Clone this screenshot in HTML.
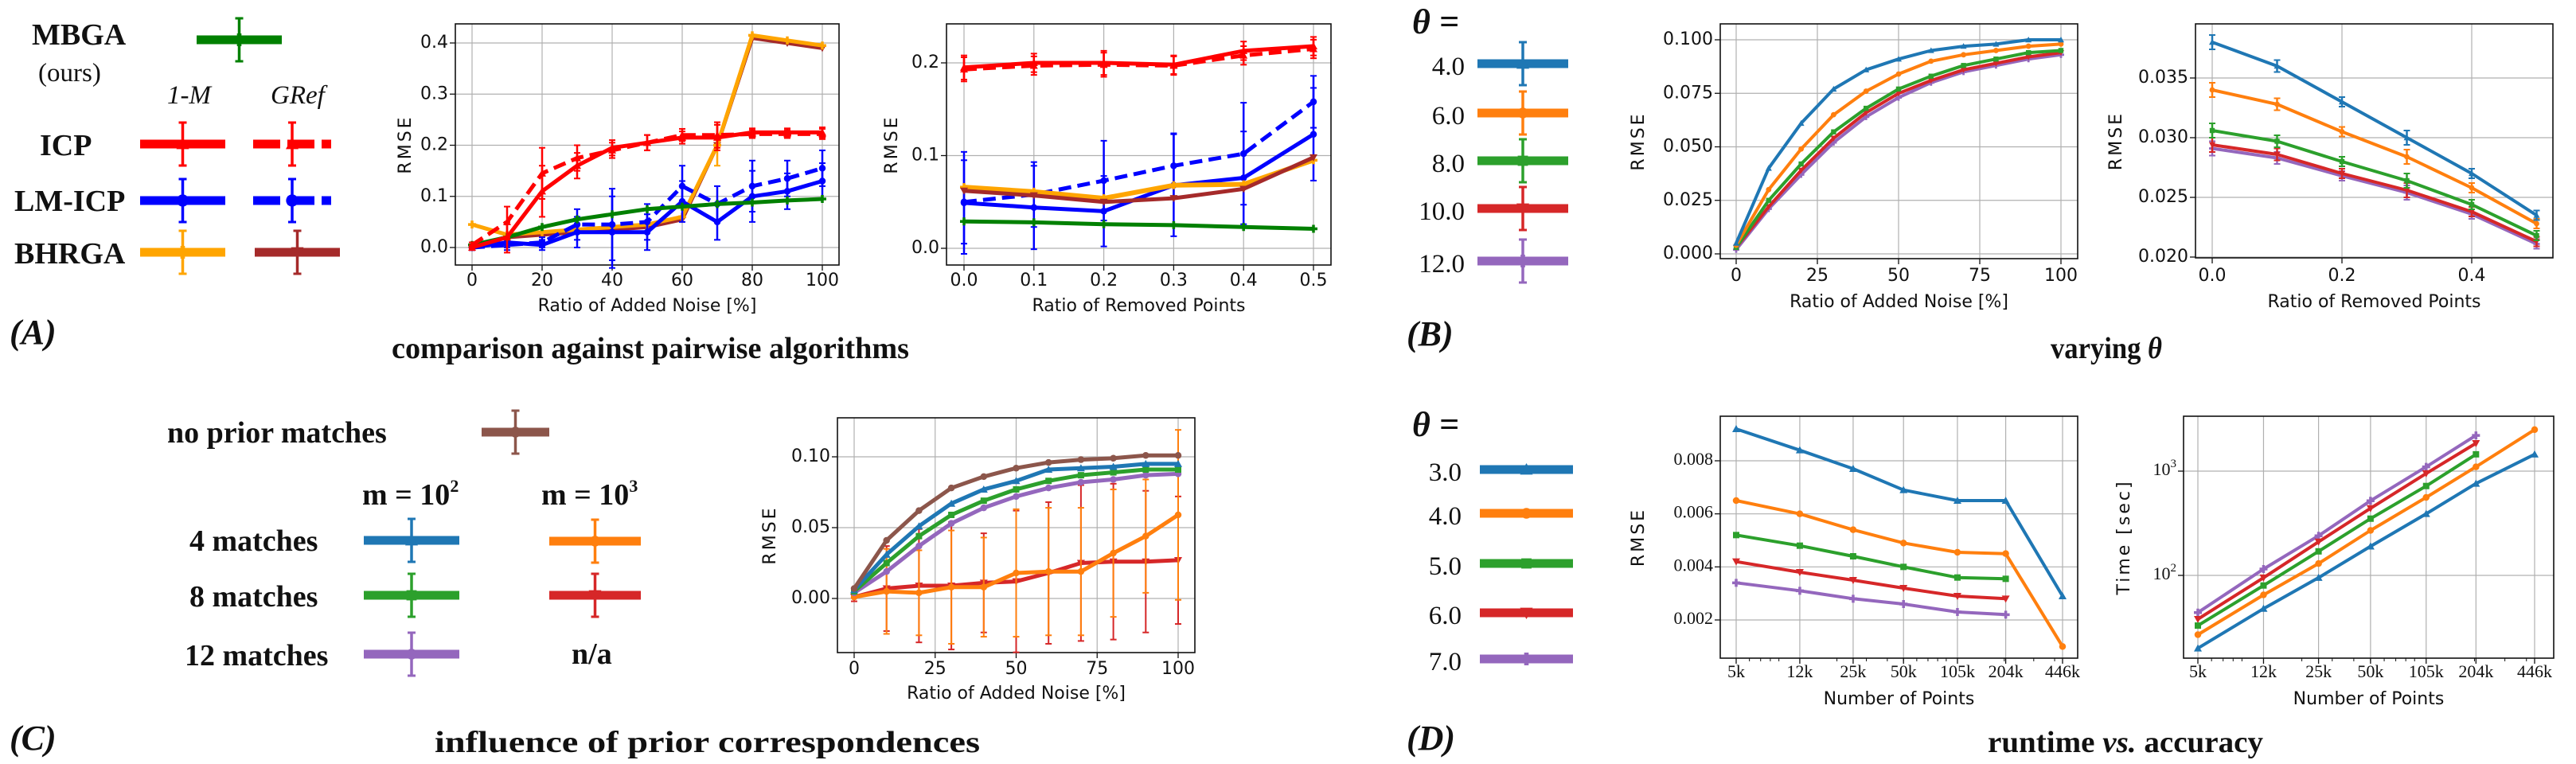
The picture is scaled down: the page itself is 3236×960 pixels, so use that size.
<!DOCTYPE html>
<html><head><meta charset="utf-8">
<style>
html,body{margin:0;padding:0;background:#fff;}
svg{display:block;}
.tk{font-family:"DejaVu Sans","Liberation Sans",sans-serif;font-size:22px;fill:#111;}
.tks{font-family:"Liberation Serif",serif;font-size:22px;fill:#111;}
.lab{font-family:"DejaVu Sans","Liberation Sans",sans-serif;font-size:22px;fill:#111;}
.lg{font-family:"Liberation Serif",serif;font-weight:bold;font-size:38px;fill:#111;}
.lgr{font-family:"Liberation Serif",serif;font-size:33px;fill:#111;}
.lgi{font-family:"Liberation Serif",serif;font-style:italic;font-size:33px;fill:#111;}
.cap{font-family:"Liberation Serif",serif;font-weight:bold;font-size:38px;fill:#111;}
.pl{font-family:"Liberation Serif",serif;font-weight:bold;font-style:italic;font-size:44px;fill:#111;}
</style></head>
<body>
<svg id="fig" width="3236" height="960" viewBox="0 0 3236 960" xmlns="http://www.w3.org/2000/svg">
<rect width="3236" height="960" fill="#fff"/>
<g>
<text class="lg" x="40" y="56">MBGA</text>
<text class="lgr" x="48" y="102">(ours)</text>
<text class="lgi" x="210" y="130">1-M</text>
<text class="lgi" x="340" y="130">GRef</text>
<text class="lg" x="50" y="195">ICP</text>
<text class="lg" x="18" y="265">LM-ICP</text>
<text class="lg" x="18" y="331">BHRGA</text>
</g>
<text class="pl" x="12" y="432">(A)</text>
<text class="cap" x="492" y="450" textLength="650" lengthAdjust="spacingAndGlyphs">comparison against pairwise algorithms</text>
<text class="pl" x="1774" y="42">θ =</text>
<text class="pl" x="1767" y="434">(B)</text>
<text class="cap" x="2576" y="450" textLength="140" lengthAdjust="spacingAndGlyphs">varying <tspan font-style="italic">θ</tspan></text>
<text class="lg" x="210" y="556">no prior matches</text>
<text class="lg" x="455" y="634">m = 10<tspan dy="-16" font-size="22">2</tspan></text>
<text class="lg" x="680" y="634">m = 10<tspan dy="-16" font-size="22">3</tspan></text>
<text class="lg" x="238" y="692">4 matches</text>
<text class="lg" x="238" y="762">8 matches</text>
<text class="lg" x="232" y="836">12 matches</text>
<text class="lg" x="718" y="834">n/a</text>
<text class="pl" x="12" y="942">(C)</text>
<text class="cap" x="546" y="945" textLength="685" lengthAdjust="spacingAndGlyphs">influence of prior correspondences</text>
<text class="pl" x="1774" y="548">θ =</text>
<text class="pl" x="1767" y="942">(D)</text>
<text class="cap" x="2497" y="945" textLength="346" lengthAdjust="spacingAndGlyphs">runtime <tspan font-style="italic">vs.</tspan> accuracy</text>
</svg>
<script>
// ---------- DATA ----------
const noiseX = [0,10,20,30,40,50,60,70,80,90,100];
const removedX = [0,0.1,0.2,0.3,0.4,0.5];
const a1Mbga = [0.005,0.02,0.04,0.055,0.065,0.075,0.08,0.085,0.088,0.092,0.095];
const a1Icp1M = [0,0.02,0.11,0.16,0.195,0.205,0.215,0.215,0.225,0.225,0.225];
const a1IcpGref = [0.005,0.05,0.145,0.175,0.19,0.205,0.22,0.22,0.222,0.222,0.222];
const a1Lm1M = [0,0.01,0.005,0.03,0.03,0.03,0.09,0.05,0.1,0.11,0.13];
const a1LmGref = [0,0.005,0.01,0.045,0.045,0.05,0.12,0.085,0.12,0.135,0.155];
const a1Bh1M = [0.045,0.025,0.03,0.035,0.04,0.045,0.06,0.2,0.415,0.405,0.395];
const a1BhGref = [0.0,0.02,0.025,0.03,0.035,0.04,0.055,0.2,0.41,0.4,0.39];
const a1IcpErr = [0.005,0.03,0.05,0.025,0.015,0.015,0.012,0.025,0.008,0.008,0.01];
const a1LmErr = [0.005,0.01,0.01,0.03,0.07,0.035,0.04,0.035,0.05,0.035,0.035];
const a2Mbga = [0.029,0.028,0.026,0.025,0.023,0.021];
const a2Icp1M = [0.195,0.2,0.2,0.198,0.213,0.218];
const a2IcpGref = [0.193,0.197,0.198,0.197,0.208,0.215];
const a2Lm1M = [0.049,0.044,0.04,0.068,0.076,0.123];
const a2LmGref = [0.05,0.058,0.073,0.089,0.102,0.158];
const a2Bh1M = [0.066,0.061,0.054,0.068,0.069,0.095];
const a2BhGref = [0.062,0.057,0.05,0.054,0.064,0.098];
const a2IcpErr = [0.013,0.01,0.013,0.01,0.01,0.01];
const a2Lm1MErr = [0.055,0.045,0.038,0.055,0.05,0.05];
const a2LmGrefErr = [0.045,0.035,0.043,0.035,0.055,0.028];
const thetaB = ["4.0","6.0","8.0","10.0","12.0"];
const b1T4 = [0.005,0.04,0.061,0.077,0.086,0.091,0.095,0.097,0.098,0.1,0.1];
const b1T6 = [0.004,0.03,0.049,0.065,0.076,0.084,0.09,0.093,0.095,0.097,0.098];
const b1T8 = [0.003,0.025,0.042,0.057,0.068,0.077,0.083,0.088,0.091,0.094,0.095];
const b1T10 = [0.003,0.022,0.039,0.054,0.066,0.075,0.081,0.086,0.089,0.092,0.094];
const b1T12 = [0.002,0.021,0.037,0.052,0.064,0.073,0.08,0.085,0.088,0.091,0.093];
const b2T4 = [0.038,0.036,0.033,0.03,0.027,0.0235];
const b2T6 = [0.034,0.0328,0.0305,0.0284,0.0258,0.0228];
const b2T8 = [0.0306,0.0297,0.028,0.0264,0.0244,0.0218];
const b2T10 = [0.0294,0.0286,0.027,0.0256,0.0238,0.0213];
const b2T12 = [0.0291,0.0283,0.0268,0.0254,0.0236,0.0211];
const cNoPrior = [0.007,0.041,0.062,0.078,0.086,0.092,0.096,0.098,0.099,0.101,0.101];
const c4m100 = [0.006,0.031,0.051,0.067,0.077,0.083,0.091,0.092,0.093,0.095,0.095];
const c8m100 = [0.005,0.025,0.044,0.059,0.069,0.077,0.083,0.087,0.089,0.091,0.091];
const c12m100 = [0.004,0.019,0.037,0.053,0.064,0.072,0.078,0.082,0.084,0.087,0.088];
const c4m1000 = [0.001,0.005,0.004,0.008,0.008,0.018,0.019,0.019,0.032,0.044,0.059];
const c8m1000 = [0.001,0.007,0.009,0.009,0.011,0.012,0.018,0.025,0.026,0.026,0.027];
const c4m1000Err = [0,0.03,0.03,0.04,0.035,0.045,0.045,0.045,0.045,0.04,0.06];
const c8m1000Err = [0.003,0.03,0.04,0.045,0.035,0.05,0.05,0.055,0.055,0.05,0.045];
const thetaD = ["3.0","4.0","5.0","6.0","7.0"];
const dPoints = [5000,12000,25000,50000,105000,204000,446000];
const dPointLabels = ["5k","12k","25k","50k","105k","204k","446k"];
const d1T3 = [0.0092,0.0084,0.0077,0.0069,0.0065,0.0065,0.0029];
const d1T4 = [0.0065,0.006,0.0054,0.0049,0.00455,0.0045,0.001];
const d1T5 = [0.0052,0.0048,0.0044,0.004,0.0036,0.00355];
const d1T6 = [0.0042,0.0038,0.0035,0.0032,0.0029,0.0028];
const d1T7 = [0.0034,0.0031,0.0028,0.0026,0.0023,0.0022];
const d2T3 = [20,48,95,190,390,760,1450];
const d2T4 = [27,65,130,270,560,1100,2500];
const d2T5 = [33,80,170,350,720,1450];
const d2T6 = [38,95,210,440,950,1850];
const d2T7 = [44,115,240,520,1100,2200];
const a1XTicks = [0,20,40,60,80,100];
const a1YTicks = [0.0,0.1,0.2,0.3,0.4];
const a2XTicks = [0,0.1,0.2,0.3,0.4,0.5];
const a2YTicks = [0.0,0.1,0.2];
const b1XTicks = [0,25,50,75,100];
const b1YTicks = [0,0.025,0.05,0.075,0.1];
const b2XTicks = [0,0.2,0.4];
const b2YTicks = [0.02,0.025,0.03,0.035];
const cXTicks = [0,25,50,75,100];
const cYTicks = [0,0.05,0.1];
const d1YTicks = [0.002,0.004,0.006,0.008];
const d2YTicks = [100,1000];

// ---------- DRAW ----------
const NS = "http://www.w3.org/2000/svg";
const svg = document.getElementById("fig");
const C = {blue:"#1f77b4",orange:"#ff7f0e",green:"#2ca02c",red:"#d62728",purple:"#9467bd",brown:"#8c564b",
  pr:"#ff0000",pb:"#0000ff",py:"#ffa500",pbr:"#a52a2a",pg:"#008000"};
function mk(tag, attrs, parent){
  const e = document.createElementNS(NS, tag);
  for (const k in attrs) e.setAttribute(k, attrs[k]);
  (parent||svg).appendChild(e);
  return e;
}
function lin(d0,d1,p0,p1){ return v => p0 + (v-d0)*(p1-p0)/(d1-d0); }
function logs(d0,d1,p0,p1){ const a=Math.log10(d0), b=Math.log10(d1); return v => p0 + (Math.log10(v)-a)*(p1-p0)/(b-a); }
function fmt(v, dec){ return v.toFixed(dec); }

function axesBox(name, box, xs, ys, xt, yt, xdec, ydec, xlab, ylab, labY, xlabY, ylabX, serif){
  const g = mk("g", {});
  
  
  xt.forEach(v => { const x = xs(v);
    const l = mk("line",{x1:x,x2:x,y1:box.t,y2:box.b,stroke:"#b0b0b0","stroke-width":1.2},g);
     
    mk("line",{x1:x,x2:x,y1:box.b,y2:box.b+7,stroke:"#111","stroke-width":1.3},g);
    const t = mk("text",{x:x,y:labY,"text-anchor":"middle","dominant-baseline":"middle","class":serif?"tks":"tk"},g);
    t.textContent = typeof xdec==="function" ? xdec(v) : fmt(v,xdec);
     
  });
  yt.forEach(v => { const y = ys(v);
    const l = mk("line",{x1:box.l,x2:box.r,y1:y,y2:y,stroke:"#b0b0b0","stroke-width":1.2},g);
     
    mk("line",{x1:box.l-7,x2:box.l,y1:y,y2:y,stroke:"#111","stroke-width":1.3},g);
    const t = mk("text",{x:box.l-9,y:y,"text-anchor":"end","dominant-baseline":"middle","class":serif?"tks":"tk"},g);
    if (typeof ydec==="function") ydec(t,v); else t.textContent = fmt(v,ydec);
     
  });
  const r = mk("rect",{x:box.l,y:box.t,width:box.r-box.l,height:box.b-box.t,fill:"none",stroke:"#111","stroke-width":1.6},g);
   
  const xl = mk("text",{x:(box.l+box.r)/2,y:xlabY,"text-anchor":"middle","dominant-baseline":"middle","class":"lab"},g);
  xl.textContent = xlab;
   
  const cy = (box.t+box.b)/2;
  const yl = mk("text",{x:ylabX,y:cy,"text-anchor":"middle","dominant-baseline":"middle","class":"lab","transform":`rotate(-90 ${ylabX} ${cy})`,"letter-spacing":"3"},g);
  yl.textContent = ylab;
   
  return g;
}

function marker(g, type, x, y, col, s){
  let e;
  if (type==="^") e = mk("path",{d:`M${x} ${y-s} L${x+s} ${y+s*0.8} L${x-s} ${y+s*0.8}Z`,fill:col},g);
  else if (type==="v") e = mk("path",{d:`M${x} ${y+s} L${x+s} ${y-s*0.8} L${x-s} ${y-s*0.8}Z`,fill:col},g);
  else if (type==="s") e = mk("rect",{x:x-s*0.8,y:y-s*0.8,width:s*1.6,height:s*1.6,fill:col},g);
  else if (type==="P") e = mk("path",{d:`M${x-s*0.35} ${y-s} h${s*0.7} v${s*0.65} h${s*0.65} v${s*0.7} h-${s*0.65} v${s*0.65} h-${s*0.7} v-${s*0.65} h-${s*0.65} v-${s*0.7} h${s*0.65}z`,fill:col},g);
  else e = mk("circle",{cx:x,cy:y,r:s*0.85,fill:col},g);
  return e;
}

function series(name, xs, ys, xv, yv, col, w, opts){
  opts = opts||{};
  const g = mk("g",{});
  
  
  if (opts.err) {
    yv.forEach((v,i) => { const e = opts.err[i]; if (!e) return;
      const x = xs(xv[i]);
      mk("line",{x1:x,x2:x,y1:ys(v-e),y2:ys(v+e),stroke:col,"stroke-width":opts.ew||2.5},g);
      mk("line",{x1:x-4,x2:x+4,y1:ys(v-e),y2:ys(v-e),stroke:col,"stroke-width":2},g);
      mk("line",{x1:x-4,x2:x+4,y1:ys(v+e),y2:ys(v+e),stroke:col,"stroke-width":2},g);
    });
  }
  const pts = yv.map((v,i) => xs(xv[i]).toFixed(1)+","+ys(v).toFixed(1)).join(" ");
  const pl = mk("polyline",{points:pts,fill:"none",stroke:col,"stroke-width":w,"stroke-linejoin":"round","stroke-dasharray":opts.dash||"none"},g);
  
  
  yv.forEach((v,i) => {
    const m = marker(g, opts.m||"o", xs(xv[i]), ys(v), col, opts.ms||5);
    
    
  });
  return g;
}

function legendCross(name, x1, x2, y, col, thick, opts){
  opts = opts||{};
  const g = mk("g",{});
  
  
  const cx = (x1+x2)/2;
  if (opts.err!==false) {
    mk("line",{x1:cx,x2:cx,y1:y-27,y2:y+27,stroke:col,"stroke-width":3.5},g);
    mk("line",{x1:cx-5,x2:cx+5,y1:y-27,y2:y-27,stroke:col,"stroke-width":3},g);
    mk("line",{x1:cx-5,x2:cx+5,y1:y+27,y2:y+27,stroke:col,"stroke-width":3},g);
  }
  mk("line",{x1:x1,x2:x2,y1:y,y2:y,stroke:col,"stroke-width":thick,"stroke-dasharray":opts.dash||"none"},g);
  marker(g, opts.m||"o", cx, y, col, opts.ms||8);
  return g;
}

legendCross("legend-mbga-mark",247,354,50,C.pg,11,{m:"P"});
legendCross("legend-icp-1m-mark",176,283,181,C.pr,11,{m:"^"});
legendCross("legend-icp-gref-mark",318,416,181,C.pr,11,{m:"^",dash:"34 9"});
legendCross("legend-lmicp-1m-mark",176,283,252,C.pb,11,{m:"o",ms:9});
legendCross("legend-lmicp-gref-mark",318,416,252,C.pb,11,{m:"o",ms:9,dash:"34 9"});
legendCross("legend-bhrga-1m-mark",176,283,317,C.py,11,{m:"P"});
legendCross("legend-bhrga-gref-mark",320,427,317,C.pbr,11,{m:"v"});

{
  const box={l:572,r:1054,t:30,b:333};
  const xs=lin(0,100,593,1033), ys=lin(0,0.4,311,54);
  axesBox("chart-a1-axes",box,xs,ys,a1XTicks,a1YTicks,0,1,"Ratio of Added Noise [%]","RMSE",353,385,510);
  series("a1-bhrga-gref",xs,ys,noiseX,a1BhGref,C.pbr,5,{m:"v"});
  series("a1-bhrga-1m",xs,ys,noiseX,a1Bh1M,C.py,5,{m:"P",err:[0,0,0,0,0,0,0,0.04,0,0,0]});
  series("a1-lmicp-1m",xs,ys,noiseX,a1Lm1M,C.pb,5,{m:"o",err:a1LmErr});
  series("a1-lmicp-gref",xs,ys,noiseX,a1LmGref,C.pb,5,{m:"o",err:a1LmErr,dash:"16 8"});
  series("a1-mbga",xs,ys,noiseX,a1Mbga,C.pg,5,{m:"P"});
  series("a1-icp-1m",xs,ys,noiseX,a1Icp1M,C.pr,5,{m:"^",err:a1IcpErr});
  series("a1-icp-gref",xs,ys,noiseX,a1IcpGref,C.pr,5,{m:"^",err:a1IcpErr,dash:"16 8"});
}
{
  const box={l:1189,r:1672,t:30,b:333};
  const xs=lin(0,0.5,1211,1650), ys=lin(0,0.2,312,79);
  axesBox("chart-a2-axes",box,xs,ys,a2XTicks,a2YTicks,1,1,"Ratio of Removed Points","RMSE",353,385,1121);
  series("a2-lmicp-1m",xs,ys,removedX,a2Lm1M,C.pb,5,{m:"o",err:a2Lm1MErr});
  series("a2-lmicp-gref",xs,ys,removedX,a2LmGref,C.pb,5,{m:"o",err:a2LmGrefErr,dash:"16 8"});
  series("a2-bhrga-1m",xs,ys,removedX,a2Bh1M,C.py,6,{m:"P"});
  series("a2-bhrga-gref",xs,ys,removedX,a2BhGref,C.pbr,5,{m:"v"});
  series("a2-mbga",xs,ys,removedX,a2Mbga,C.pg,5,{m:"P"});
  series("a2-icp-1m",xs,ys,removedX,a2Icp1M,C.pr,5,{m:"^",err:a2IcpErr});
  series("a2-icp-gref",xs,ys,removedX,a2IcpGref,C.pr,5,{m:"^",err:a2IcpErr,dash:"16 8"});
}
const bCols=[C.blue,C.orange,C.green,C.red,C.purple];
const bMk=["^","o","s","v","P"];
const bLegY=[80,142,202,262,328];
thetaB.forEach((t,i)=>{
  const tx = mk("text",{x:1840,y:bLegY[i]+14,"text-anchor":"end","class":"lgr","font-size":"40"});
  tx.textContent = t;
  
  
  legendCross("legend-b-mark",1856,1970,bLegY[i],bCols[i],11,{m:bMk[i]});
});
{
  const box={l:2161,r:2610,t:30,b:325};
  const xs=lin(0,100,2181,2589), ys=lin(0,0.1,319,50);
  axesBox("chart-b1-axes",box,xs,ys,b1XTicks,b1YTicks,0,3,"Ratio of Added Noise [%]","RMSE",347,380,2059);
  const b1=[b1T4,b1T6,b1T8,b1T10,b1T12];
  for(let i=4;i>=0;i--) series("b1-theta-"+thetaB[i],xs,ys,noiseX,b1[i],bCols[i],4,{m:bMk[i],ms:4});
}
{
  const box={l:2758,r:3207,t:30,b:324};
  const xs=lin(0,0.4,2779,3105), ys=lin(0.02,0.035,323,98);
  axesBox("chart-b2-axes",box,xs,ys,b2XTicks,b2YTicks,1,3,"Ratio of Removed Points","RMSE",347,380,2659);
  const b2=[b2T4,b2T6,b2T8,b2T10,b2T12];
  for(let i=4;i>=0;i--) series("b2-theta-"+thetaB[i],xs,ys,removedX,b2[i],bCols[i],4,{m:bMk[i],ms:4,err:[0.0006,0.0005,0.0004,0.0006,0.0004,0.0004]});
}
legendCross("legend-no-prior-mark",605,690,543,C.brown,11,{m:"o"});
legendCross("legend-4m-m100-mark",457,577,679,C.blue,11,{m:"^"});
legendCross("legend-4m-m1000-mark",690,805,680,C.orange,11,{m:"o"});
legendCross("legend-8m-m100-mark",457,577,748,C.green,11,{m:"s"});
legendCross("legend-8m-m1000-mark",690,805,748,C.red,11,{m:"v"});
legendCross("legend-12m-m100-mark",457,577,822,C.purple,11,{m:"o"});
{
  const box={l:1052,r:1501,t:525,b:820};
  const xs=lin(0,100,1073,1480), ys=lin(0,0.1,752,574);
  axesBox("chart-c-axes",box,xs,ys,cXTicks,cYTicks,0,2,"Ratio of Added Noise [%]","RMSE",841,872,968);
  series("c-8m-m1000",xs,ys,noiseX,c8m1000,C.red,5,{m:"v",err:c8m1000Err,ew:2});
  series("c-4m-m1000",xs,ys,noiseX,c4m1000,C.orange,5,{m:"o",err:c4m1000Err,ew:2});
  series("c-12m-m100",xs,ys,noiseX,c12m100,C.purple,5,{m:"o"});
  series("c-8m-m100",xs,ys,noiseX,c8m100,C.green,5,{m:"s"});
  series("c-4m-m100",xs,ys,noiseX,c4m100,C.blue,5,{m:"^"});
  series("c-no-prior",xs,ys,noiseX,cNoPrior,C.brown,5,{m:"o"});
}
const dLegY=[590,645,708,770,828];
thetaD.forEach((t,i)=>{
  const tx = mk("text",{x:1836,y:dLegY[i]+14,"text-anchor":"end","class":"lgr","font-size":"40"});
  tx.textContent = t;
  
  
  legendCross("legend-d-mark",1859,1976,dLegY[i],bCols[i],11,{m:bMk[i],err:false});
});
function minorTicks(xs, box){
  const g = mk("g",{});
  
  
  for (let d=1000; d<=100000; d*=10) for (let k=2;k<=9;k++){ const v=d*k;
    if (v<5000||v>446000) continue; const x=xs(v);
    mk("line",{x1:x,x2:x,y1:box.b,y2:box.b+4,stroke:"#111","stroke-width":1},g); }
}
{
  const box={l:2161,r:2610,t:523,b:827};
  const xs=logs(5000,446000,2181,2591), ys=lin(0.002,0.008,779,579);
  axesBox("chart-d1-axes",box,xs,ys,dPoints,d1YTicks,(v)=>dPointLabels[dPoints.indexOf(v)],3,"Number of Points","RMSE",846,879,2059,true);
  minorTicks(xs,box);
  const d1=[d1T3,d1T4,d1T5,d1T6,d1T7];
  for(let i=4;i>=0;i--) series("d1-theta-"+thetaD[i],xs,ys,dPoints.slice(0,d1[i].length),d1[i],bCols[i],4,{m:bMk[i],ms:5});
}
{
  const box={l:2743,r:3208,t:523,b:827};
  const xs=logs(5000,446000,2761,3184), ys=logs(100,1000,723,592);
  axesBox("chart-d2-axes",box,xs,ys,dPoints,d2YTicks,(v)=>dPointLabels[dPoints.indexOf(v)],
    (t,v)=>{ t.textContent="10"; const s=document.createElementNS(NS,"tspan"); s.setAttribute("dy","-8"); s.setAttribute("font-size","15"); s.textContent=String(Math.round(Math.log10(v))); t.appendChild(s); },
    "Number of Points","Time [sec]",846,879,2669,true);
  minorTicks(xs,box);
  const d2=[d2T3,d2T4,d2T5,d2T6,d2T7];
  for(let i=4;i>=0;i--) series("d2-theta-"+thetaD[i],xs,ys,dPoints.slice(0,d2[i].length),d2[i],bCols[i],4,{m:bMk[i],ms:5});
}
</script>
</body></html>
